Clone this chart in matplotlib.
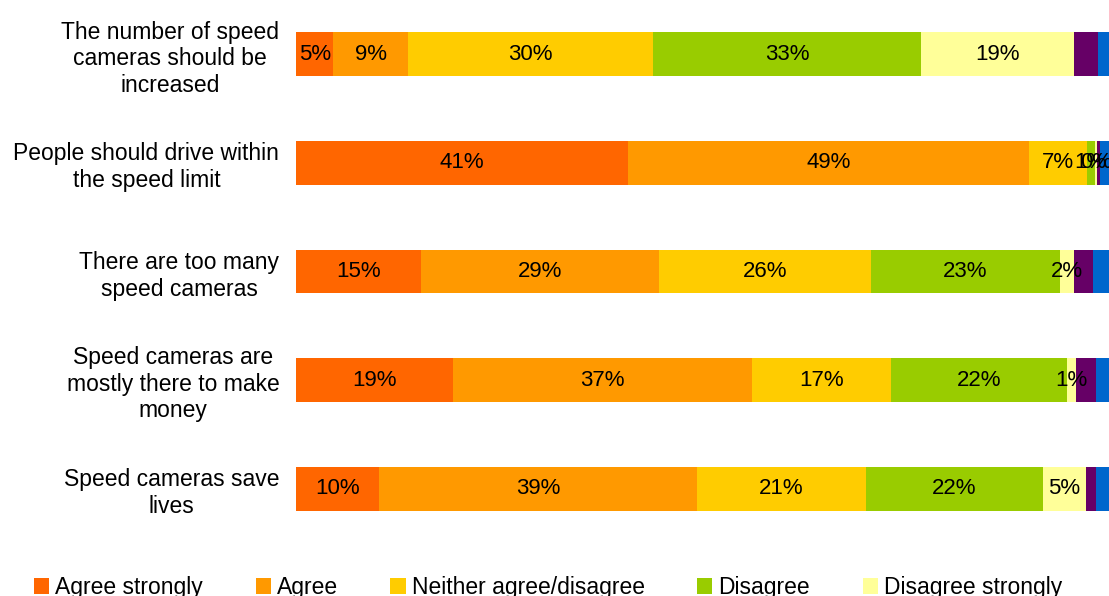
import matplotlib
matplotlib.use("Agg")
import matplotlib.pyplot as plt
import numpy as np

plt.rcParams["font.family"] = ["Liberation Sans", "DejaVu Sans"]

categories = [
    "The number of speed\ncameras should be\nincreased",
    "People should drive within\nthe speed limit",
    "There are too many\nspeed cameras",
    "Speed cameras are\nmostly there to make\nmoney",
    "Speed cameras save\nlives",
]
series_names = ["Agree strongly", "Agree", "Neither agree/disagree", "Disagree",
                "Disagree strongly", "Don't know", "No answer"]
agree_strongly = [4.6, 40.7, 15.3, 19.3, 10.2]
agree = [9.2, 49.2, 29.3, 36.6, 39.0]
neither = [30.0, 7.1, 25.9, 17.1, 20.7]
disagree = [32.9, 1.0, 23.2, 21.6, 21.7]
disagree_strongly = [18.8, 0.3, 1.8, 1.1, 5.3]
dont_know = [2.9, 0.4, 2.3, 2.5, 1.3]
no_answer = [1.6, 1.3, 2.2, 1.8, 1.8]

series = [agree_strongly, agree, neither, disagree, disagree_strongly, dont_know, no_answer]
colors = ["#FF6600", "#FF9900", "#FFCC00", "#99CC00", "#FFFF99", "#660066", "#0066CC"]
labelled = [True, True, True, True, True, False, False]

W, H = 1109, 596
fig = plt.figure(figsize=(W / 100, H / 100), dpi=100)
ax = fig.add_axes([296 / W, 1 - 543 / H, (1111 - 296) / W, 543 / H])

y = np.arange(len(categories))
left = np.zeros(len(categories))
handles = []
for vals, col, name, lab in zip(series, colors, series_names, labelled):
    vals = np.array(vals)
    bars = ax.barh(y, vals, left=left, height=0.405, color=col, label=name)
    handles.append(bars)
    if lab:
        ax.bar_label(bars, labels=[f"{round(v):d}%" for v in vals],
                     label_type="center", fontsize=16, color="black")
    left += vals

ax.set_xlim(0, 100)
ax.set_ylim(len(categories) - 0.5, -0.5)
ax.set_yticks(y)
ax.set_yticklabels(categories, fontsize=16.5, multialignment="center")
ax.tick_params(axis="y", length=0, pad=12)
ax.set_xticks([])
for s in ax.spines.values():
    s.set_visible(False)

# legend: the visible first row of the reference (remaining entries fall below the image)
leg = fig.legend(handles[:5], series_names[:5],
                 ncol=5, loc="upper left", bbox_to_anchor=(34 / W, 1 - 576 / H),
                 frameon=False, fontsize=16.5, borderpad=0, borderaxespad=0,
                 handlelength=0.66, handleheight=0.66, handletextpad=0.26,
                 columnspacing=2.3)

fig.savefig("out.png", dpi=100)
